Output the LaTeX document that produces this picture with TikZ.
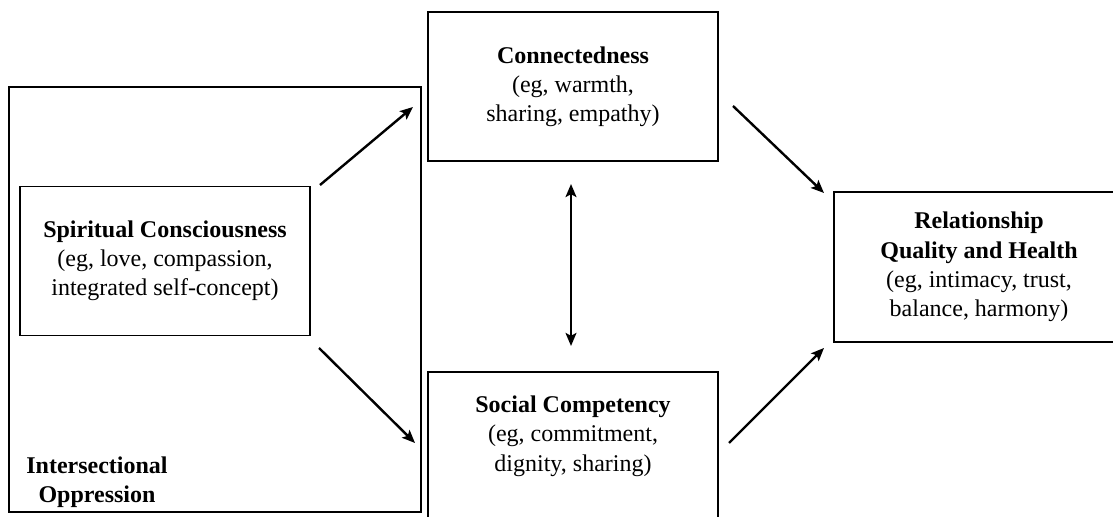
\documentclass[tikz,border=0pt]{standalone}
\usepackage{fontspec}
\setmainfont{Liberation Serif}
\usetikzlibrary{arrows.meta}

\tikzset{%
  box/.style={draw, line width=0.65pt, inner sep=0pt, align=center,
    minimum width=145pt, minimum height=74.5pt,
    font=\fontsize{12}{14.6}\selectfont},%
  tip/.tip={Stealth[length=6.5pt,width=5.4pt,inset=1.4pt]},%
  link/.style={line width=1.2pt, -tip},%
}

\begin{document}
\begin{tikzpicture}[x=0.5pt,y=-0.5pt]
        \clip (0,0) rectangle (1113,517);%

        % outer frame
        \node[box, minimum width=206pt, minimum height=212.5pt] (O) at (215,299.5) {};%
        \node[font=\fontsize{12}{14.6}\selectfont\bfseries, align=center] (O_t) at (97,482)
          {Intersectional\\Oppression};%

        \node[box] (S) at (165,261) {\textbf{Spiritual Consciousness}\\(eg, love, compassion,\\integrated self-concept)};%
        \node[box] (C) at (573,86.5) {\textbf{Connectedness}\\(eg, warmth,\\sharing, empathy)};%
        \node[box, text depth=13pt] (K) at (573,446.5) {\textbf{Social Competency}\\(eg, commitment,\\dignity, sharing)};%
        \node[box, minimum height=75pt] (R) at (979,267)
          {\textbf{Relationship}\\\textbf{Quality and Health}\\(eg, intimacy, trust,\\balance, harmony)};%

        % arrow ends
        \coordinate (S_1) at (320,185); \coordinate (C_1) at (413,107);%
        \coordinate (S_2) at (319,348); \coordinate (K_1) at (415,443);%
        \coordinate (C_2) at (733,106); \coordinate (R_1) at (824,193);%
        \coordinate (K_2) at (729,443); \coordinate (R_2) at (824,348);%
        \coordinate (C_3) at (571,184); \coordinate (K_3) at (571,346);%

        \foreach \a/\b in {S_1/C_1, S_2/K_1, C_2/R_1, K_2/R_2} {%
          \draw[link] (\a) -- (\b); }%
        \draw[link, tip-tip] (C_3) -- (K_3);%
\end{tikzpicture}
\end{document}
